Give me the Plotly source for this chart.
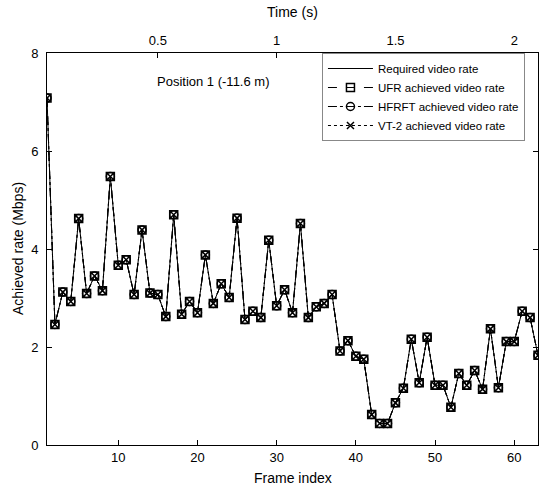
import plotly.graph_objects as go

frames = list(range(1, 64))
rate = [7.08, 2.46, 3.12, 2.93, 4.62, 3.09, 3.45, 3.15, 5.48, 3.67,
        3.78, 3.07, 4.39, 3.10, 3.07, 2.62, 4.70, 2.67, 2.93, 2.70,
        3.88, 2.89, 3.29, 3.01, 4.63, 2.56, 2.73, 2.60, 4.18, 2.84,
        3.17, 2.70, 4.52, 2.60, 2.82, 2.89, 3.07, 1.92, 2.13, 1.81,
        1.75, 0.62, 0.44, 0.44, 0.86, 1.16, 2.16, 1.27, 2.20, 1.22,
        1.22, 0.77, 1.46, 1.22, 1.52, 1.14, 2.37, 1.17, 2.11, 2.11,
        2.73, 2.60, 1.83]
fps = 30
time_s = [f / fps for f in frames]

series_names = ["Required video rate", "UFR achieved video rate",
                "HFRFT achieved video rate", "VT-2 achieved video rate"]
y_ticks = [0, 2, 4, 6, 8]
x_ticks = [10, 20, 30, 40, 50, 60]
t_ticks = [0.5, 1, 1.5, 2]

FONT = "Liberation Sans, Arial, sans-serif"
fig = go.Figure()

styles = [
    dict(dash="solid", mode="lines", symbol=None),
    dict(dash="dash", mode="lines+markers", symbol="square-open"),
    dict(dash="dashdot", mode="lines+markers", symbol="circle-open"),
    dict(dash="dot", mode="lines+markers", symbol="x-thin-open"),
]
for name, st in zip(series_names, styles):
    kw = dict(x=frames, y=rate, name=name, mode=st["mode"],
              line=dict(color="black", width=1, dash=st["dash"]))
    if st["symbol"]:
        kw["marker"] = dict(symbol=st["symbol"], size=8 if st["symbol"] != "x-thin-open" else 7,
                            color="black", line=dict(color="black", width=1.5))
    fig.add_trace(go.Scatter(**kw))

# invisible trace to bind the time axis
fig.add_trace(go.Scatter(x=time_s, y=rate, xaxis="x2", mode="lines",
                         line=dict(color="rgba(0,0,0,0)"), showlegend=False,
                         hoverinfo="skip"))

fig.add_annotation(x=21.9, y=7.42, text="Position 1 (-11.6 m)", showarrow=False,
                   font=dict(size=13, color="black", family=FONT), xref="x", yref="y")

# axis titles placed as annotations
fig.add_annotation(x=0.5, y=0.0, xref="paper", yref="paper", yshift=-33,
                   text="Frame index", showarrow=False, yanchor="middle",
                   font=dict(size=14, color="black", family=FONT))
fig.add_annotation(x=0.5, y=1.0, xref="paper", yref="paper", yshift=41,
                   text="Time (s)", showarrow=False, yanchor="middle",
                   font=dict(size=14, color="black", family=FONT))
fig.add_annotation(x=0.0, y=0.5, xref="paper", yref="paper", xshift=-29,
                   text="Achieved rate (Mbps)", showarrow=False, textangle=-90,
                   xanchor="center", font=dict(size=14, color="black", family=FONT))

axis_common = dict(showline=True, linecolor="black", linewidth=1, ticks="inside",
                   ticklen=5, tickcolor="black", showgrid=False, zeroline=False,
                   automargin=False,
                   tickfont=dict(size=13, color="black", family=FONT))

fig.update_layout(
    width=539, height=486,
    margin=dict(l=47, r=1, t=53, b=41),
    plot_bgcolor="white", paper_bgcolor="white",
    font=dict(family=FONT, color="black"),
    xaxis=dict(range=[1, 63], tickvals=x_ticks, mirror=False, **axis_common),
    xaxis2=dict(range=[1 / fps, 63 / fps], tickvals=t_ticks, overlaying="x",
                side="top", ticklabelstandoff=2, **axis_common),
    yaxis=dict(range=[0, 8], tickvals=y_ticks, mirror="ticks", ticklabelstandoff=5,
               **axis_common),
    legend=dict(x=0.56, y=1.0, xanchor="left", yanchor="top",
                bgcolor="white", bordercolor="#888888", borderwidth=1,
                font=dict(size=11.5, color="black", family=FONT),
                tracegroupgap=0, itemwidth=45),
    showlegend=True,
)

fig.write_html("out.html", config={"displayModeBar": False},
               post_script="document.body.style.margin='0';document.body.style.overflow='hidden';")
